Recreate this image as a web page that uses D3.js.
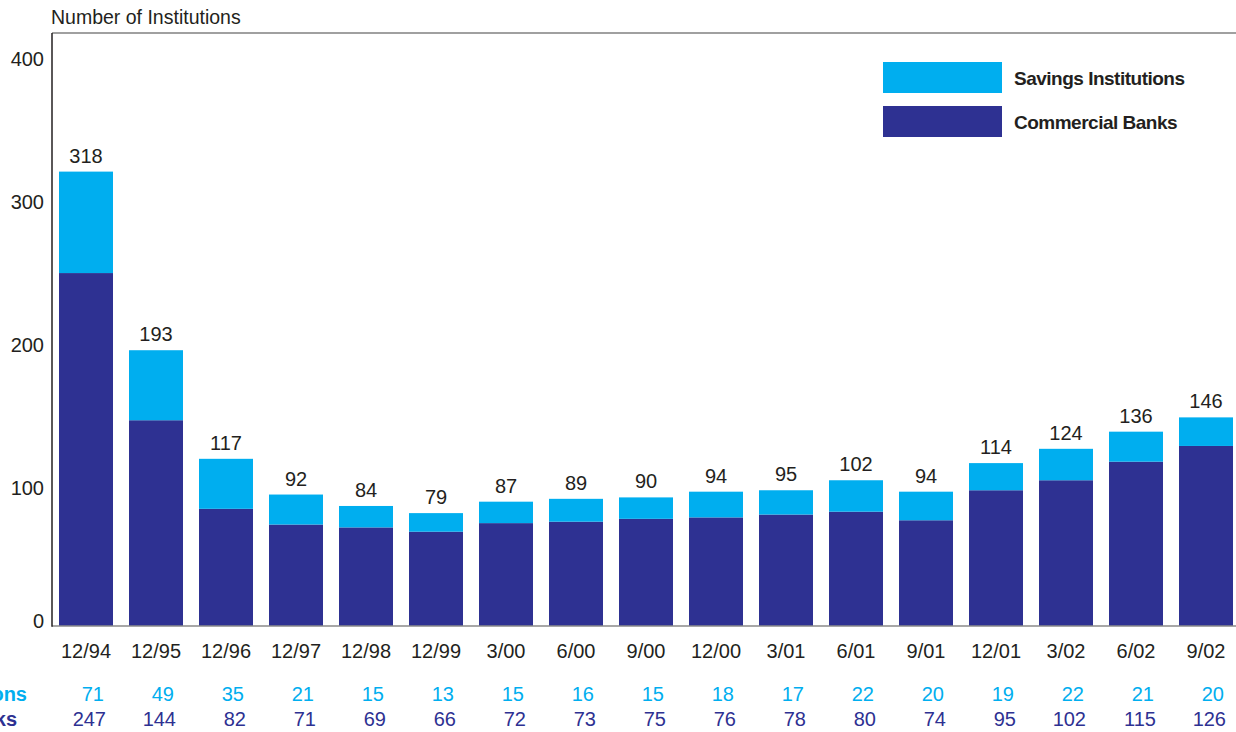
<!DOCTYPE html>
<html>
<head>
<meta charset="utf-8">
<script src="https://cdn.jsdelivr.net/npm/d3@7/dist/d3.min.js"></script>
<style>
  html, body { margin: 0; padding: 0; background: #fff; }
  svg { display: block; font-family: "Liberation Sans", Arial, sans-serif; }
</style>
</head>
<body>
<svg id="chart" width="1236" height="732"></svg>
<script>
const categories = ["12/94","12/95","12/96","12/97","12/98","12/99","3/00","6/00","9/00","12/00","3/01","6/01","9/01","12/01","3/02","6/02","9/02"];
const commercialBanks = [247,144,82,71,69,66,72,73,75,76,78,80,74,95,102,115,126];
const savingsInstitutions = [71,49,35,21,15,13,15,16,15,18,17,22,20,19,22,21,20];
const totals = [318,193,117,92,84,79,87,89,90,94,95,102,94,114,124,136,146];
const yTicks = [0,100,200,300,400];
const seriesNames = ["Savings Institutions","Commercial Banks"];

(function () {
const colSavings = "#00aeef";
const colCommercial = "#2e3192";
const textCol = "#231f20";
const fs = 20;

const svg = d3.select("#chart");
const mLeft = 52, mTop = 33, mBottom = 626, mRight = 1240;

const x = d3.scaleBand().domain(categories).range([mLeft, mRight]).paddingInner(16/70).paddingOuter(0.1);
const y = d3.scaleLinear().domain([0, 415]).range([mBottom, mTop]);

// title
svg.append("text").attr("x", 51).attr("y", 24).attr("font-size", 19.5).attr("fill", textCol)
  .text("Number of Institutions");

// bars
const data = categories.map((c, i) => ({c, cb: commercialBanks[i], si: savingsInstitutions[i], t: totals[i]}));
const g = svg.append("g");
g.selectAll("rect.cb").data(data).join("rect").attr("class","cb")
  .attr("x", d => x(d.c)).attr("width", x.bandwidth())
  .attr("y", d => y(d.cb)).attr("height", d => y(0) - y(d.cb))
  .attr("fill", colCommercial);
g.selectAll("rect.si").data(data).join("rect").attr("class","si")
  .attr("x", d => x(d.c)).attr("width", x.bandwidth())
  .attr("y", d => y(d.cb + d.si)).attr("height", d => y(d.cb) - y(d.cb + d.si))
  .attr("fill", colSavings);

// total labels
g.selectAll("text.tot").data(data).join("text").attr("class","tot")
  .attr("x", d => x(d.c) + x.bandwidth()/2).attr("y", d => y(d.cb + d.si) - 9)
  .attr("text-anchor","middle").attr("font-size", fs).attr("fill", textCol)
  .text(d => d.t);

// axes lines
svg.append("line").attr("x1", mLeft).attr("x2", 1236).attr("y1", mTop).attr("y2", mTop)
  .attr("stroke", "#808080").attr("stroke-width", 1.5);
svg.append("line").attr("x1", mLeft).attr("x2", 1236).attr("y1", mBottom).attr("y2", mBottom)
  .attr("stroke", "#8a8a8a").attr("stroke-width", 1.5);
svg.append("line").attr("x1", mLeft).attr("x2", mLeft).attr("y1", mTop).attr("y2", mBottom + 0.75)
  .attr("stroke", textCol).attr("stroke-width", 1.5);

// y tick labels
svg.selectAll("text.yt").data(yTicks).join("text").attr("class","yt")
  .attr("x", 44).attr("y", d => y(d) + (d === 0 ? -5 : 5)).attr("dy", "0.35em")
  .attr("text-anchor","end").attr("font-size", fs).attr("fill", textCol)
  .text(d => d);

// x tick labels
svg.selectAll("text.xt").data(categories).join("text").attr("class","xt")
  .attr("x", d => x(d) + x.bandwidth()/2).attr("y", 658)
  .attr("text-anchor","middle").attr("font-size", fs).attr("fill", textCol)
  .text(d => d);

// data table rows
svg.selectAll("text.rs").data(data).join("text").attr("class","rs")
  .attr("x", d => x(d.c) + x.bandwidth()/2 + 18).attr("y", 701)
  .attr("text-anchor","end").attr("font-size", fs).attr("fill", colSavings)
  .text(d => d.si);
svg.selectAll("text.rc").data(data).join("text").attr("class","rc")
  .attr("x", d => x(d.c) + x.bandwidth()/2 + 20).attr("y", 726)
  .attr("text-anchor","end").attr("font-size", fs).attr("fill", colCommercial)
  .text(d => d.cb);
svg.append("text").attr("x", 27).attr("y", 701).attr("text-anchor","end")
  .attr("font-size", fs).attr("font-weight","bold").attr("fill", colSavings).text(seriesNames[0]);
svg.append("text").attr("x", 17).attr("y", 726).attr("text-anchor","end")
  .attr("font-size", fs).attr("font-weight","bold").attr("fill", colCommercial).text(seriesNames[1]);

// legend
const legend = svg.append("g");
const legendColors = [colSavings, colCommercial];
seriesNames.forEach((n, i) => {
  legend.append("rect").attr("x", 883).attr("y", 62 + i*44).attr("width", 119).attr("height", 31)
    .attr("fill", legendColors[i]);
  legend.append("text").attr("x", 1014).attr("y", 78 + i*44).attr("dy", "0.35em")
    .attr("font-size", 19).attr("font-weight", "bold").attr("fill", textCol)
    .attr("letter-spacing", "-0.5")
    .text(n);
});
})();
</script>
</body>
</html>
